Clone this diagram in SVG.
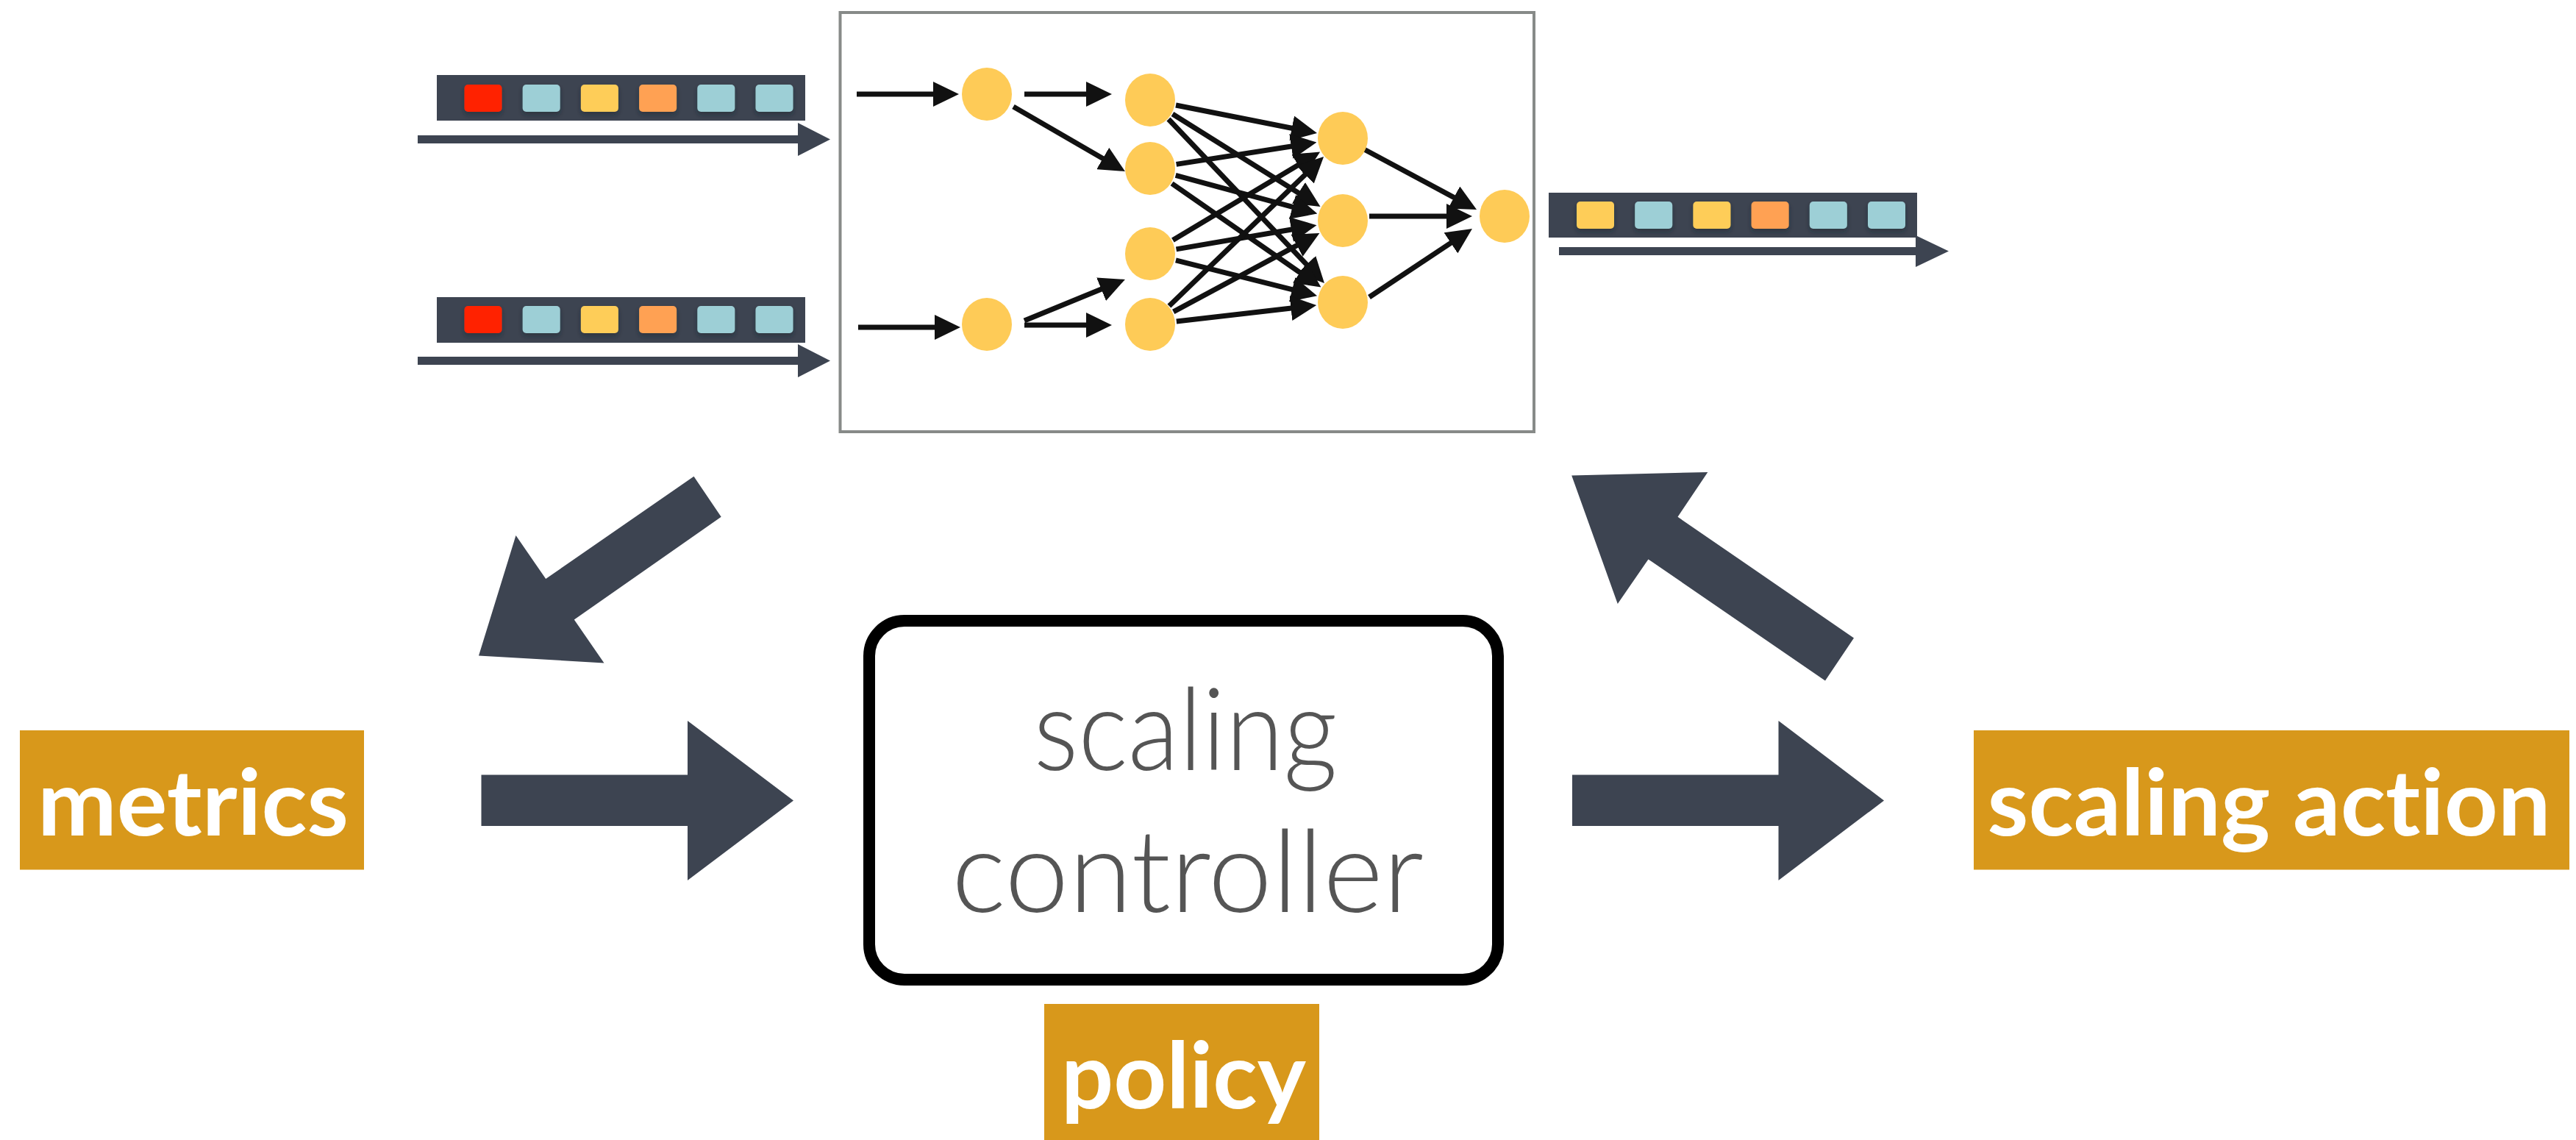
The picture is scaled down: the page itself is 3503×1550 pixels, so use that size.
<svg xmlns="http://www.w3.org/2000/svg" width="3503" height="1550" viewBox="0 0 3503 1550">
  <style>
    .bar { fill: #3d4451; }
    .tok { stroke: none; filter: url(#tokShadow); }
    .red { fill: #ff2400; }
    .blue { fill: #9dcfd6; }
    .yellow { fill: #fecd58; }
    .orange { fill: #ffa153; }
    .flow { fill: #3d4451; }
    .neuron { fill: #fecb57; }
    .edge { stroke: #111111; stroke-width: 7; fill: none; marker-end: url(#nnHead); }
    .big { fill: #3d4451; }
    .tag { fill: #d8981b; }
    text { font-variant-ligatures: none; font-feature-settings: "liga" 0, "clig" 0; }
    .tagText { font-family: Lato, "Open Sans", "Liberation Sans", sans-serif; font-weight: 700; font-size: 124px; fill: #ffffff; }
    .ctrlText { font-family: Lato, "Open Sans", "Liberation Sans", sans-serif; font-weight: 300; font-size: 156px; fill: #555555; text-anchor: middle; }
  </style>
  <defs>
    <filter id="tokShadow" x="-30%" y="-30%" width="160%" height="180%">
      <feDropShadow dx="0" dy="4" stdDeviation="3" flood-color="#1f242c" flood-opacity="0.45"/>
    </filter>
    <marker id="nnHead" markerUnits="userSpaceOnUse" viewBox="0 0 35 34" markerWidth="35" markerHeight="34" refX="5" refY="17" orient="auto">
      <path d="M0,0 L35,17 L0,34 z" fill="#111111"/>
    </marker>
  </defs>

  <rect width="3503" height="1550" fill="#ffffff"/>

  <!-- input stream 1 -->
  <g id="stream-in-1">
    <rect class="bar" x="594" y="102" width="501" height="62"/>
    <rect class="tok red" x="631.5" y="115" width="51" height="37" rx="5"/>
    <rect class="tok blue" x="710.7" y="115" width="51" height="37" rx="5"/>
    <rect class="tok yellow" x="789.9" y="115" width="51" height="37" rx="5"/>
    <rect class="tok orange" x="869.1" y="115" width="51" height="37" rx="5"/>
    <rect class="tok blue" x="948.3" y="115" width="51" height="37" rx="5"/>
    <rect class="tok blue" x="1027.5" y="115" width="51" height="37" rx="5"/>
    <polygon class="flow" points="568,184 1085,184 1085,167 1129,189.5 1085,212 1085,195 568,195"/>
  </g>

  <!-- input stream 2 -->
  <g id="stream-in-2">
    <rect class="bar" x="594" y="404" width="501" height="62"/>
    <rect class="tok red" x="631.5" y="416" width="51" height="37" rx="5"/>
    <rect class="tok blue" x="710.7" y="416" width="51" height="37" rx="5"/>
    <rect class="tok yellow" x="789.9" y="416" width="51" height="37" rx="5"/>
    <rect class="tok orange" x="869.1" y="416" width="51" height="37" rx="5"/>
    <rect class="tok blue" x="948.3" y="416" width="51" height="37" rx="5"/>
    <rect class="tok blue" x="1027.5" y="416" width="51" height="37" rx="5"/>
    <polygon class="flow" points="568,485 1085,485 1085,468 1129,490.5 1085,513 1085,496 568,496"/>
  </g>

  <!-- output stream -->
  <g id="stream-out">
    <rect class="bar" x="2106" y="262" width="501" height="61"/>
    <rect class="tok yellow" x="2144" y="274" width="51" height="37" rx="5"/>
    <rect class="tok blue" x="2223.2" y="274" width="51" height="37" rx="5"/>
    <rect class="tok yellow" x="2302.4" y="274" width="51" height="37" rx="5"/>
    <rect class="tok orange" x="2381.6" y="274" width="51" height="37" rx="5"/>
    <rect class="tok blue" x="2460.8" y="274" width="51" height="37" rx="5"/>
    <rect class="tok blue" x="2540" y="274" width="51" height="37" rx="5"/>
    <polygon class="flow" points="2120,336 2605,336 2605,320 2650,341.5 2605,363 2605,347 2120,347"/>
  </g>

  <!-- dataflow job: neural-network-like operator graph -->
  <g id="job">
    <rect x="1142.5" y="17" width="943.5" height="570" fill="#ffffff" stroke="#878a88" stroke-width="4"/>
    <g id="job-edges">
      <line class="edge" x1="1165" y1="128" x2="1274" y2="128"/>
      <line class="edge" x1="1167" y1="445" x2="1276" y2="445"/>
      <line class="edge" x1="1393" y1="128" x2="1482" y2="128"/>
      <line class="edge" x1="1378" y1="145" x2="1504" y2="218"/>
      <line class="edge" x1="1393" y1="436" x2="1502.2" y2="391.3"/>
      <line class="edge" x1="1393" y1="442" x2="1482" y2="442"/>

      <line class="edge" x1="1599" y1="143" x2="1761.6" y2="175.2"/>
      <line class="edge" x1="1594.5" y1="155" x2="1770.1" y2="265"/>
      <line class="edge" x1="1589" y1="162" x2="1780.3" y2="363.3"/>
      <line class="edge" x1="1599.6" y1="223.4" x2="1760.8" y2="198.2"/>
      <line class="edge" x1="1598.7" y1="238.4" x2="1762.4" y2="282.7"/>
      <line class="edge" x1="1593.6" y1="249.5" x2="1771.8" y2="373.4"/>
      <line class="edge" x1="1594.9" y1="326.5" x2="1769.4" y2="221.9"/>
      <line class="edge" x1="1599.5" y1="338.9" x2="1760.9" y2="311.2"/>
      <line class="edge" x1="1598.9" y1="353.8" x2="1762" y2="394.9"/>
      <line class="edge" x1="1589.9" y1="416" x2="1778.5" y2="233.9"/>
      <line class="edge" x1="1595.7" y1="423.9" x2="1767.9" y2="331.3"/>
      <line class="edge" x1="1599.8" y1="436.9" x2="1760.4" y2="418.5"/>

      <line class="edge" x1="1855" y1="203" x2="1981.6" y2="270.8"/>
      <line class="edge" x1="1862" y1="294" x2="1972" y2="294"/>
      <line class="edge" x1="1862" y1="404" x2="1977" y2="327.6"/>
    </g>
    <g id="job-operators">
      <ellipse class="neuron" cx="1342" cy="128" rx="34" ry="36"/>
      <ellipse class="neuron" cx="1342" cy="441" rx="34" ry="36"/>
      <ellipse class="neuron" cx="1564" cy="136" rx="34" ry="36"/>
      <ellipse class="neuron" cx="1564" cy="229" rx="34" ry="36"/>
      <ellipse class="neuron" cx="1564" cy="345" rx="34" ry="36"/>
      <ellipse class="neuron" cx="1564" cy="441" rx="34" ry="36"/>
      <ellipse class="neuron" cx="1826" cy="188" rx="34" ry="36"/>
      <ellipse class="neuron" cx="1826" cy="300" rx="34" ry="36"/>
      <ellipse class="neuron" cx="1826" cy="411" rx="34" ry="36"/>
      <ellipse class="neuron" cx="2046" cy="294" rx="34" ry="36"/>
    </g>
  </g>

  <!-- scaling controller -->
  <g id="controller">
    <rect x="1182" y="844" width="855" height="488" rx="48" ry="48" fill="#ffffff" stroke="#000000" stroke-width="16"/>
    <text class="ctrlText" x="1612" y="1047" textLength="413" lengthAdjust="spacingAndGlyphs">scaling</text>
    <text class="ctrlText" x="1615" y="1240" textLength="642" lengthAdjust="spacingAndGlyphs">controller</text>
  </g>

  <!-- labels -->
  <g id="metrics">
    <rect class="tag" x="27" y="993" width="468" height="189.5"/>
    <text class="tagText" x="51" y="1136" textLength="423" lengthAdjust="spacingAndGlyphs">metrics</text>
  </g>
  <g id="scaling-action">
    <rect class="tag" x="2684" y="993" width="810" height="189.5"/>
    <text class="tagText" x="2702.5" y="1136" textLength="766" lengthAdjust="spacingAndGlyphs">scaling action</text>
  </g>
  <g id="policy">
    <rect class="tag" x="1420" y="1365" width="374" height="185"/>
    <text class="tagText" x="1443" y="1507" textLength="333" lengthAdjust="spacingAndGlyphs">policy</text>
  </g>

  <!-- control loop arrows -->
  <g id="connectors">
    <polygon class="big" points="943.5,647.7 980.7,702.8 780.8,842.5 821.5,901.4 651,891.5 701.5,728.1 742.2,787"/>
    <polygon class="big" points="654.5,1053.6 935,1053.6 935,980 1079,1088.5 935,1197 935,1123 654.5,1123"/>
    <polygon class="big" points="2138,1053.6 2418.5,1053.6 2418.5,980 2562,1088.5 2418.5,1197 2418.5,1123 2138,1123"/>
    <polygon class="big" points="2137.2,646.4 2322.3,641.9 2281.5,702.8 2521,867.4 2482,925.5 2241.5,760.4 2199.8,821"/>
  </g>
</svg>
